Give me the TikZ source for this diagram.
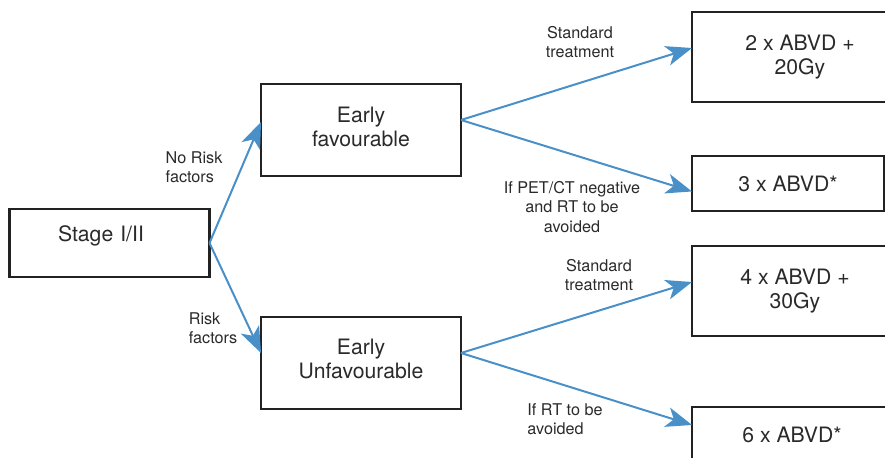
\documentclass[tikz,border=0pt]{standalone}
\usepackage{fontspec}
\setmainfont{TeX Gyre Heros}
\usetikzlibrary{arrows.meta,positioning}
\definecolor{Flow}{HTML}{4A90C8}
\definecolor{Edge}{HTML}{222222}
\definecolor{Ink}{HTML}{2A2A2A}

\begin{document}
\begin{tikzpicture}[x=0.5pt,y=-0.5pt,
      box/.style={draw=Edge,line width=1.3pt,fill=white,inner sep=2pt,outer sep=0pt,
        minimum width=100pt,minimum height=46pt,align=center,text=Ink,
        font=\fontsize{10.6}{12.2}\selectfont},
      result/.style={box,minimum height=45pt},
      tag/.style={font=\fontsize{8.1}{9.6}\selectfont,text=Ink,inner sep=0pt},
      flow/.style={-{Stealth[length=13pt,width=10pt,inset=3.5pt]},draw=Flow,line width=1pt}
    ]
      \clip (0,0) rectangle (885,458);
      \node[box,minimum height=34pt,inner xsep=24pt,text width=51.5pt,align=left,
        text depth=9pt] (stage) at (109.5,243) {Stage I/II};
      \node[box,text depth=3pt] (fav) at (361,130) {Early\\favourable};
      \node[box,text depth=4pt] (unfav) at (361,363) {Early\\Unfavourable};
      \node[result,minimum width=108pt] (r1) at (800,57) {2 x ABVD +\\20Gy};
      \node[result,minimum width=96pt,minimum height=27.5pt] (r2) at (788,183.5) {3 x ABVD*};
      \node[result,minimum width=103pt] (r3) at (795,291) {4 x ABVD +\\30Gy};
      \node[result,minimum width=100pt,minimum height=27.5pt] (r4) at (792,434.5) {6 x ABVD*};
      % branches from the stage
      \draw[flow] (stage.east)--([yshift=4pt]fav.west);
      \draw[flow] (stage.east)--([yshift=5pt]unfav.west);
      \draw[flow] ([yshift=5pt]fav.east)--([yshift=4.5pt]r1.west);
      \draw[flow] ([yshift=5pt]fav.east)--([yshift=-4pt]r2.west);
      \draw[flow] ([yshift=5pt]unfav.east)--([yshift=4.5pt]r3.west);
      \draw[flow] ([yshift=5pt]unfav.east)--([yshift=4.75pt]r4.west);
      \node[tag,align=left] (l1) at (194,167) {No Risk\\factors};
      \node[tag,align=left] (l2) at (213,328) {Risk\\factors};
      \node[tag,align=center] (l3) at (580,42) {Standard\\treatment};
      \node[tag,align=center] (l4) at (572,207) {If PET/CT negative\\and RT to be\\avoided};
      \node[tag,align=center] (l5) at (599,275) {Standard\\treatment};
      \node[tag,align=left] (l6) at (565,419) {If RT to be\\avoided};
    \end{tikzpicture}
\end{document}
